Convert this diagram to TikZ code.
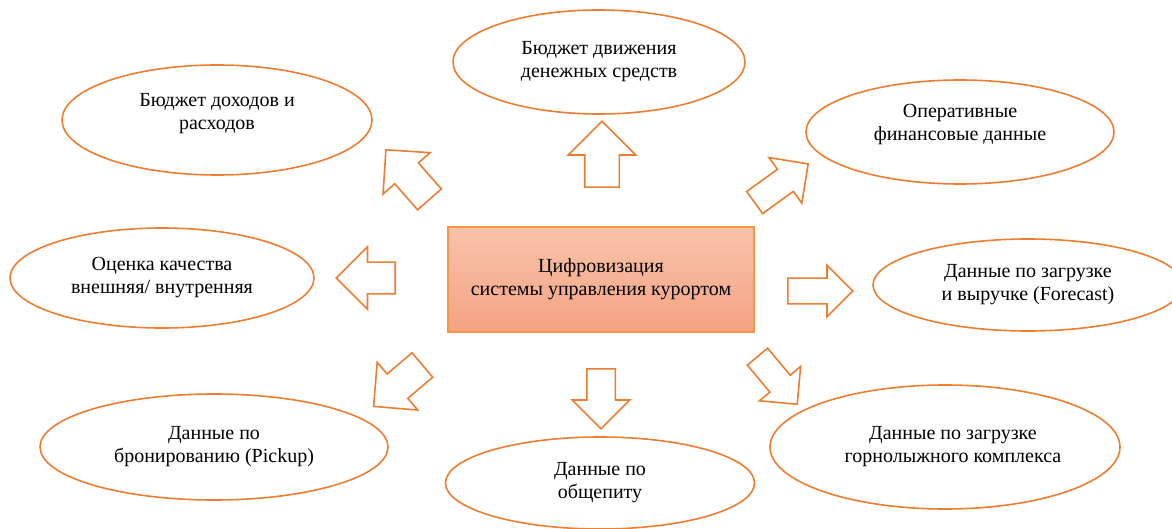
\documentclass[tikz,border=0pt]{standalone}
\usepackage{fontspec}
\setmainfont{Liberation Serif}
\usetikzlibrary{shapes.geometric, shapes.arrows}

\definecolor{orangeline}{HTML}{ED7D31}
\definecolor{hubline}{HTML}{F79646}
\definecolor{hubtop}{HTML}{F8C3AA}
\definecolor{hubbottom}{HTML}{F4A383}

\tikzset{
  bubbletext/.style={align=center, font=\fontsize{20}{23}\selectfont},
  bubble/.style={ellipse, draw=orangeline, line width=1.6pt, inner sep=0pt, bubbletext},
  hub/.style={rectangle, draw=hubline, line width=1.3pt, top color=hubtop,
    bottom color=hubbottom, minimum width=306pt, minimum height=105pt, bubbletext},
  blockarrow/.style={single arrow, draw=orangeline, fill=white, line width=1.6pt,
    inner xsep=0pt, single arrow head indent=0pt, anchor=tail}
}

\begin{document}
\begin{tikzpicture}
	[x=1pt, y=-1pt]
   \useasboundingbox (0,0) rectangle (1172,529);
   % centre
   \node[hub] (hub) at (601,279.5) {Цифровизация\\системы управления курортом};
   % ellipses
   \node[bubble, minimum width=292pt, minimum height=104pt] (e_dds)      at (599,62)  {Бюджет движения\\денежных средств};
   \node[bubble, minimum width=310pt, minimum height=110pt,
     label={[bubbletext, yshift=6pt]center:Бюджет доходов и\\расходов}] (e_budget) at (217,120) {};
   \node[bubble, minimum width=308pt, minimum height=104pt,
     label={[bubbletext, yshift=7pt]center:Оперативные\\финансовые данные}] (e_oper) at (960,132) {};
   \node[bubble, minimum width=304pt, minimum height=100pt] (e_quality)  at (162,278) {Оценка качества\\внешняя/ внутренняя};
   \node[bubble, minimum width=310pt, minimum height=92pt]  (e_forecast) at (1028,285) {Данные по загрузке\\и выручке (Forecast)};
   \node[bubble, minimum width=348pt, minimum height=106pt] (e_pickup)   at (214,447) {Данные по\\бронированию (Pickup)};
   \node[bubble, minimum width=309pt, minimum height=92pt]  (e_food)     at (600,483) {Данные по\\общепиту};
   \node[bubble, minimum width=350pt, minimum height=124pt,
     label={[bubbletext, xshift=8pt]center:Данные по загрузке\\горнолыжного комплекса}] (e_ski) at (945,447) {};
   % block arrows
   \node[blockarrow, minimum height=66pt, inner ysep=16.5pt, single arrow head extend=16.5pt, rotate=90]    (a_up) at (602,188) {};
   \node[blockarrow, minimum height=66pt, inner ysep=12.8pt, single arrow head extend=14.5pt, rotate=35.8]  (a_ur) at (754,203) {};
   \node[blockarrow, minimum height=65pt, inner ysep=12pt,   single arrow head extend=13pt,   rotate=0]     (a_r)  at (787,291) {};
   \node[blockarrow, minimum height=62pt, inner ysep=12.4pt, single arrow head extend=13.6pt, rotate=-50.2] (a_dr) at (757,356) {};
   \node[blockarrow, minimum height=60pt, inner ysep=13.5pt, single arrow head extend=14.5pt, rotate=-90]   (a_d)  at (601,368) {};
   \node[blockarrow, minimum height=64pt, inner ysep=15.2pt, single arrow head extend=15.3pt, rotate=220.3] (a_dl) at (423,364.5) {};
   \node[blockarrow, minimum height=59pt, inner ysep=15pt,   single arrow head extend=15.5pt, rotate=180]   (a_l)  at (396,278) {};
   \node[blockarrow, minimum height=66pt, inner ysep=15pt,   single arrow head extend=15.5pt, rotate=131.3] (a_ul) at (430,200) {};
\end{tikzpicture}
\end{document}
